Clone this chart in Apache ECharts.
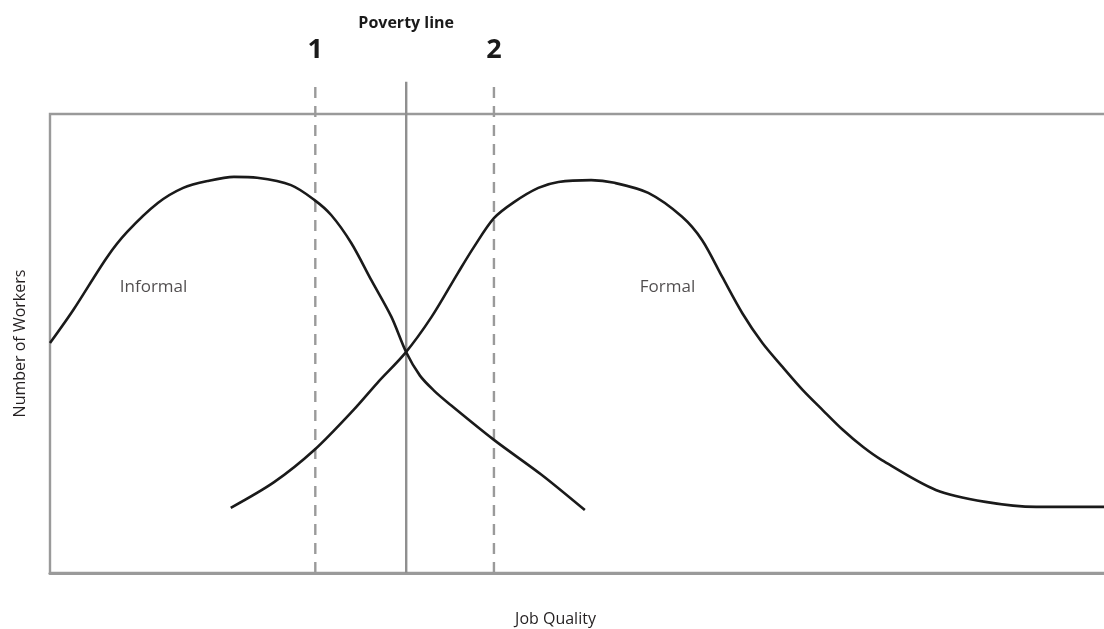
<!DOCTYPE html>
<html>
<head>
<meta charset="utf-8">
<script src="https://cdn.jsdelivr.net/npm/echarts@6/dist/echarts.min.js"></script>
<style>html,body{margin:0;padding:0;background:#fff}#c{width:1104px;height:629px}</style>
</head>
<body>
<div id="c"></div>
<script>
// Job quality (x, 0-100) vs number of workers (y, 0-100)
var informal = [
  [0,50.1],[2.2,57.3],[5.4,68.8],[7.3,74.3],[10.2,80.6],[12.6,83.9],[14.9,85.4],
  [17.4,86.3],[19.6,86.1],[22.8,84.5],[25.0,81.3],[26.6,78.0],[28.5,71.9],
  [30.4,63.8],[32.3,55.8],[33.7,48.1],[35.0,43.0],[36.3,39.8],[37.7,37.0],[42.0,29.0],[46.5,21.4],[50.6,13.7]
];
var formal = [
  [17.1,14.2],[21.2,19.8],[25.0,26.8],[28.7,35.5],[31.0,41.5],[33.6,47.9],[36.1,55.8],
  [38.6,65.4],[40.1,71.0],[42.0,77.3],[43.9,80.8],[46.2,83.9],[48.1,85.2],[51.2,85.6],
  [53.4,85.0],[56.6,82.8],[59.8,77.6],[61.7,72.5],[63.6,64.5],[65.5,56.6],[67.4,50.1],
  [69.3,44.9],[71.2,39.9],[73.1,35.5],[75.0,31.2],[76.9,27.5],[78.7,24.6],
  [83.8,18.1],[88.5,15.5],[93.3,14.4],[100,14.4]
];
var povertyX = 33.7;
var markerX = [25.1, 42.0];
var markerLabels = ['1', '2'];
var lineTop = 107;
var curveLabels = [{name:'Informal', x:6.6, y:62.3}, {name:'Formal', x:55.8, y:62.3}];

var FONT = '"Open Sans", Lato, sans-serif';
var series = [];
series.push({
  type:'line', data:informal, smooth:0.3, symbol:'none', clip:false,
  lineStyle:{color:'#1a1a1a', width:2.6}, z:5, silent:true
});
series.push({
  type:'line', data:formal, smooth:0.3, symbol:'none', clip:false,
  lineStyle:{color:'#1a1a1a', width:2.6}, z:5, silent:true
});
markerX.forEach(function(x, i){
  series.push({
    type:'line', clip:false, symbol:'circle', symbolSize:0, silent:true, z:3,
    lineStyle:{color:'#9a9a9a', width:2.4, type:[11,8]},
    data:[{value:[x,0]},{value:[x,lineTop], label:{show:true, position:'top', distance:18,
      formatter:markerLabels[i], fontSize:27, fontWeight:'bold', color:'#1a1a1a', fontFamily:FONT}}]
  });
});
series.push({
  type:'line', clip:false, symbol:'circle', symbolSize:0, silent:true, z:3,
  lineStyle:{color:'#8f8f8f', width:2.4},
  data:[{value:[povertyX,0]},{value:[povertyX,lineTop], label:{show:true, position:'top', distance:50,
    formatter:'Poverty line', fontSize:16, fontWeight:'bold', color:'#1a1a1a', fontFamily:FONT}}]
});
series.push({
  type:'scatter', symbolSize:0, silent:true, clip:false,
  data:curveLabels.map(function(d){return {value:[d.x,d.y], name:d.name};}),
  label:{show:true, position:'right', distance:0, formatter:'{b}', fontSize:17,
    color:'#231f20', fontFamily:FONT}
});

var chart = echarts.init(document.getElementById('c'), null, {renderer:'canvas'});
chart.setOption({
  animation:false,
  backgroundColor:'#fff',
  grid:{show:true, left:50, top:114, right:-3, bottom:56, outerBoundsMode:'none', containLabel:false,
    borderColor:'#9a9a9a', borderWidth:2.4, backgroundColor:'transparent'},
  xAxis:{type:'value', min:0, max:100, name:'Job Quality', nameLocation:'middle', nameGap:38,
    nameTextStyle:{fontSize:16, color:'#231f20', fontFamily:FONT, padding:[0,46,0,0]},
    axisLine:{show:true, lineStyle:{color:'#9a9a9a', width:3.2}}, axisTick:{show:false},
    axisLabel:{show:false}, splitLine:{show:false}},
  yAxis:{type:'value', min:0, max:100, name:'Number of Workers', nameLocation:'middle', nameGap:22,
    nameTextStyle:{fontSize:16, color:'#231f20', fontFamily:FONT},
    axisLine:{show:false}, axisTick:{show:false}, axisLabel:{show:false}, splitLine:{show:false}},
  series:series
});
</script>
</body>
</html>
